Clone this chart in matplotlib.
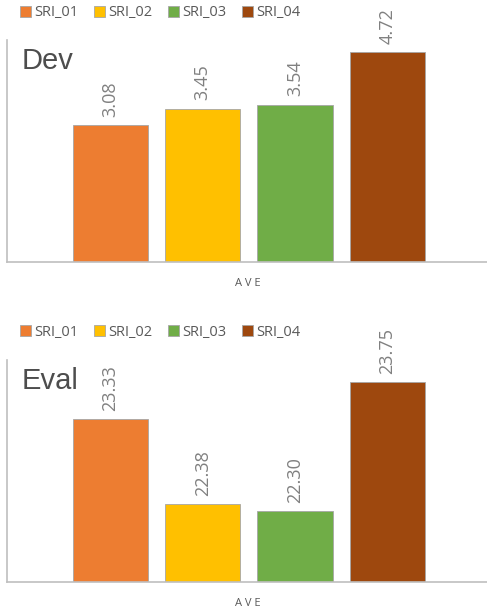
import numpy as np
import matplotlib.pyplot as plt

series = ["SRI_01", "SRI_02", "SRI_03", "SRI_04"]
colors = ["#ED7D31", "#FFC000", "#70AD47", "#9E480E"]
dev_vals = [3.08, 3.45, 3.54, 4.72]
eval_vals = [23.33, 22.38, 22.30, 23.75]
category = "AVE"

W, H = 487, 611
fig = plt.figure(figsize=(W / 100, H / 100), dpi=100)
plt.rcParams['font.family'] = ['Open Sans', 'DejaVu Sans']


def panel(top_px, bot_px, legend_px, label_px, vals, ylim, title):
    ax = fig.add_axes([7 / W, 1 - bot_px / H, 1 - 7 / W, (bot_px - top_px) / H])
    x = np.arange(len(vals))
    handles = []
    for i, v in enumerate(vals):
        b = ax.bar(x[i], v - ylim[0], bottom=ylim[0], width=0.815, color=colors[i],
                   edgecolor="#A6A6A6", linewidth=0.6, label=series[i])
        handles.append(b)
        ax.annotate("%.2f" % v, (x[i], v), xytext=(0, 6), textcoords="offset points",
                    rotation=90, ha="center", va="bottom", fontsize=13, color="#808080")
    ax.set_xlim(-1.12, 4.08)
    ax.set_ylim(*ylim)
    for s in ["top", "right"]:
        ax.spines[s].set_visible(False)
    ax.spines["left"].set_color("#BFBFBF")
    ax.spines["bottom"].set_color("#BFBFBF")
    ax.spines["left"].set_linewidth(1.2)
    ax.spines["bottom"].set_linewidth(1.2)
    ax.set_xticks([])
    ax.set_yticks([])
    ax.text(0.03, 0.97, title, transform=ax.transAxes, ha="left", va="top",
            fontsize=21, color="#4D4D4D", family=["Liberation Sans", "DejaVu Sans"])
    fig.text(248 / W, 1 - label_px / H, " ".join(category), ha="center", va="center",
             fontsize=8, color="#595959")
    fig.legend(handles=handles, loc="center left", bbox_to_anchor=(14 / W, 1 - legend_px / H),
               ncol=4, frameon=False, handlelength=0.75, handleheight=0.75,
               handletextpad=0.25, columnspacing=1.05, fontsize=10.5, labelcolor="#595959",
               borderaxespad=0)
    return ax


panel(40, 262, 13, 283, dev_vals, (0, 5), "Dev")
panel(360, 582, 102 + 230, 603, eval_vals, (21.5, 24.0), "Eval")

fig.savefig("out.png", dpi=100)
